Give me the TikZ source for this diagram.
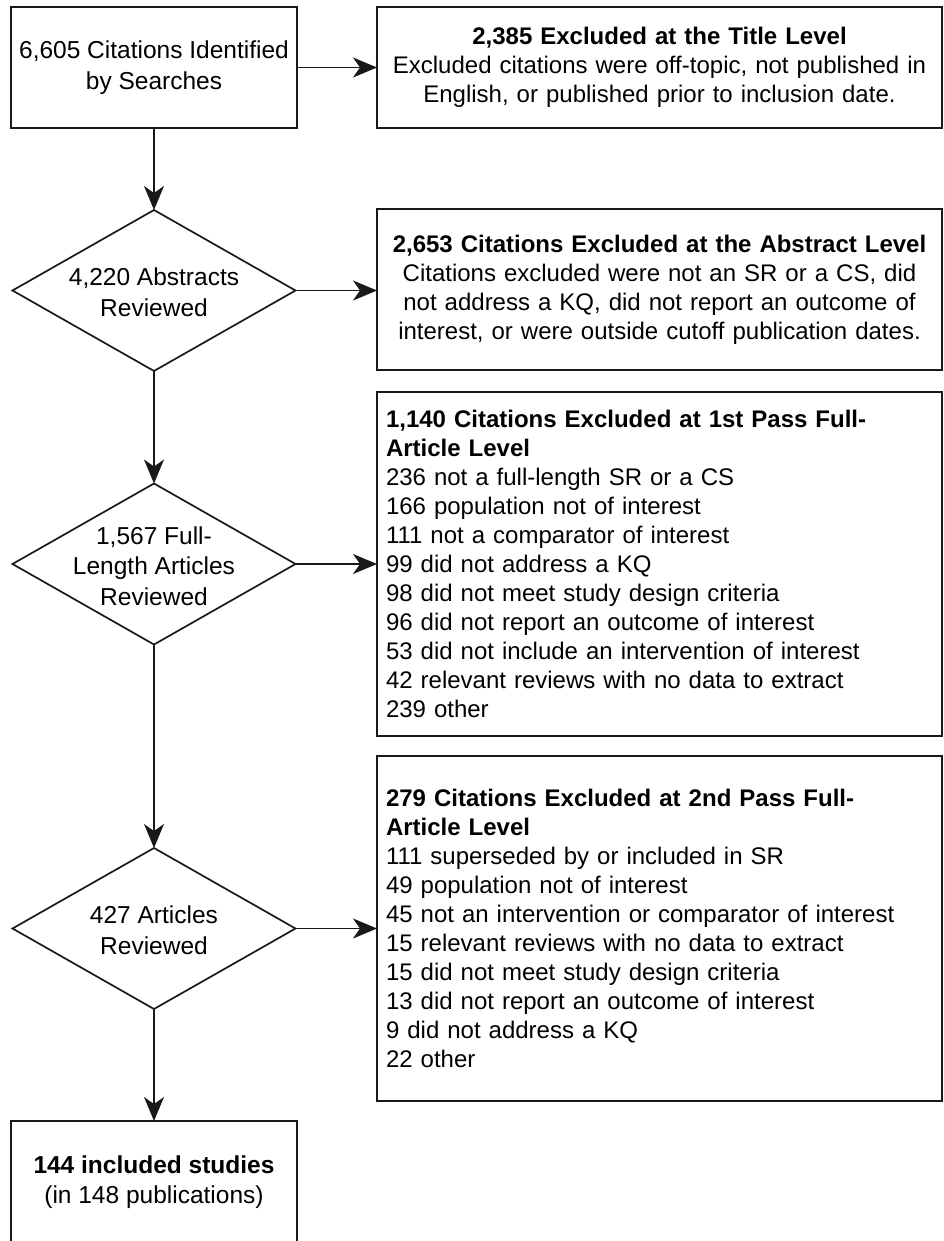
\documentclass[tikz,border=0pt]{standalone}
\usepackage{fontspec}
\setmainfont{Liberation Sans}
\usetikzlibrary{shapes.geometric,arrows.meta}
\tikzset{
  base/.style={draw=black!90, line width=1.7pt, inner sep=0pt, outer sep=0pt},
  lbox/.style={base, rectangle, minimum width=286pt, minimum height=121pt, align=center,
               font=\fontsize{24.5}{30.5}\selectfont},
  dia/.style={base, diamond, minimum width=283pt, minimum height=161pt},
  dtext/.style={align=center, font=\fontsize{24.5}{30.5}\selectfont, inner sep=0pt},
  rbox/.style={base, rectangle, minimum width=565pt, text width=547pt, inner xsep=9pt,
               font=\fontsize{24}{29}\selectfont},
  conn/.style={line width=1.7pt, draw=black!90, -{Stealth[length=24pt,width=20pt,inset=7pt]}}
}
\begin{document}
\begin{tikzpicture}[x=1pt,y=-1pt]
\useasboundingbox (0,0) rectangle (943,1241);
% left column
\node[lbox] (b1) at (154,67.5) {6,605 Citations Identified\\by Searches};
\node[dia] (d1) at (154,290.5) {};
\node[dtext] (d1t) at (154,292) {4,220 Abstracts\\Reviewed};
\node[dia] (d2) at (154,564) {};
\node[dtext] (d2t) at (154,566) {1,567 Full-\\Length Articles\\Reviewed};
\node[dia] (d3) at (154,928.5) {};
\node[dtext] (d3t) at (154,930) {427 Articles\\Reviewed};
\node[lbox, minimum height=122pt] (b2) at (154,1182) {\textbf{144 included studies}\\(in 148 publications)};
% right column
\node[rbox, minimum height=121pt, align=center] (r1) at (659.5,67.5)
  {\textbf{2,385 Excluded at the Title Level}\\Excluded citations were off-topic, not published in\\English, or published prior to inclusion date.};
\node[rbox, minimum height=161pt, align=center] (r2) at (659.5,289.5)
  {\textbf{2,653 Citations Excluded at the Abstract Level}\\Citations excluded were not an SR or a CS, did\\not address a KQ, did not report an outcome of\\interest, or were outside cutoff publication dates.};
\node[rbox, minimum height=344pt, align=left] (r3) at (659.5,564)
  {\textbf{1,140 Citations Excluded at 1st Pass Full-}\\\textbf{Article Level}\\236 not a full-length SR or a CS\\166 population not of interest\\111 not a comparator of interest\\99 did not address a KQ\\98 did not meet study design criteria\\96 did not report an outcome of interest\\53 did not include an intervention of interest\\42 relevant reviews with no data to extract\\239 other};
\node[rbox, minimum height=345pt, align=left] (r4) at (659.5,928.5)
  {\textbf{279 Citations Excluded at 2nd Pass Full-}\\\textbf{Article Level}\\111 superseded by or included in SR\\49 population not of interest\\45 not an intervention or comparator of interest\\15 relevant reviews with no data to extract\\15 did not meet study design criteria\\13 did not report an outcome of interest\\9 did not address a KQ\\22 other};
% connectors
\draw[conn] (b1.south) -- (d1.north);
\draw[conn] (d1.south) -- (d2.north);
\draw[conn] (d2.south) -- (d3.north);
\draw[conn] (d3.south) -- (b2.north);
\draw[conn] (b1.east) -- (r1.west);
\draw[conn] (d1.east) -- (d1.east -| r2.west);
\draw[conn] (d2.east) -- (d2.east -| r3.west);
\draw[conn] (d3.east) -- (d3.east -| r4.west);
\end{tikzpicture}
\end{document}
